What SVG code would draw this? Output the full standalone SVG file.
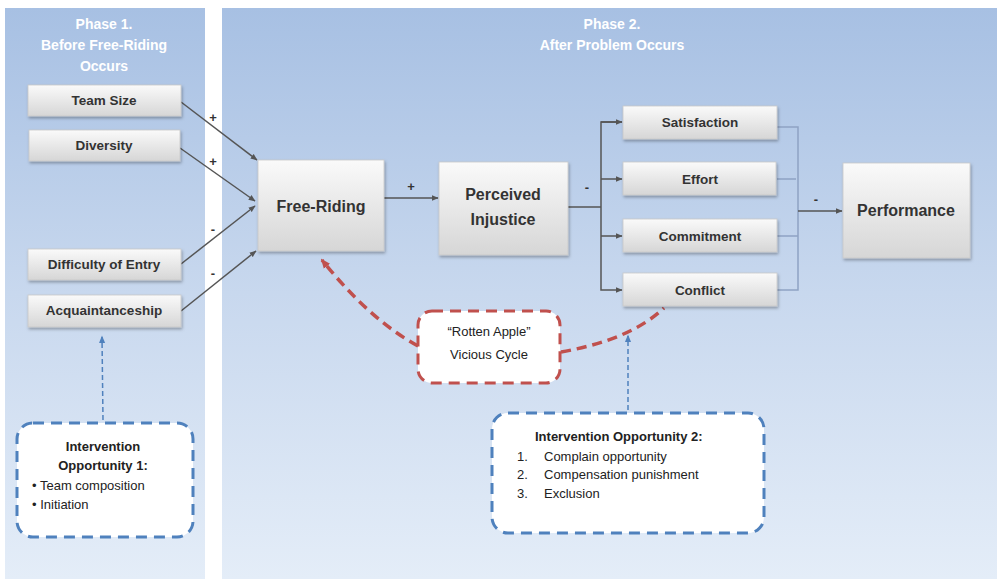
<svg xmlns="http://www.w3.org/2000/svg" width="997" height="579" viewBox="0 0 997 579">
<defs>
<linearGradient id="panel" x1="0" y1="0" x2="0" y2="1">
<stop offset="0" stop-color="#a7c0e3"/>
<stop offset="0.5" stop-color="#c8d8ee"/>
<stop offset="1" stop-color="#e4edf8"/>
</linearGradient>
<linearGradient id="box" x1="0" y1="0" x2="0" y2="1">
<stop offset="0" stop-color="#fafafa"/>
<stop offset="1" stop-color="#d6d6d6"/>
</linearGradient>
<filter id="sh" x="-10%" y="-10%" width="130%" height="140%">
<feDropShadow dx="1" dy="2" stdDeviation="1.5" flood-color="#000" flood-opacity="0.3"/>
</filter>
<marker id="ah" viewBox="0 0 10 10" refX="9" refY="5" markerWidth="7" markerHeight="7" orient="auto" markerUnits="userSpaceOnUse">
<path d="M0,1 L10,5 L0,9 z" fill="#555"/>
</marker>
<marker id="ahr" viewBox="0 0 10 10" refX="8" refY="5" markerWidth="10" markerHeight="10" orient="auto" markerUnits="userSpaceOnUse">
<path d="M0,1 L10,5 L0,9 z" fill="#c0504d"/>
</marker>
<marker id="ahb" viewBox="0 0 10 10" refX="8" refY="5" markerWidth="8" markerHeight="8" orient="auto" markerUnits="userSpaceOnUse">
<path d="M0,1 L10,5 L0,9 z" fill="#4f81bd"/>
</marker>
</defs>
<style>
text{font-family:"Liberation Sans",Arial,sans-serif;}
.title{fill:#ffffff;font-weight:bold;font-size:14px;text-anchor:middle;}
.node rect{fill:url(#box);stroke:#c8c8c8;stroke-width:0.8;filter:url(#sh);}
.lbl{fill:#333;font-weight:bold;font-size:13.5px;text-anchor:middle;}
.big{fill:#333;font-weight:bold;font-size:16px;text-anchor:middle;}
.sign{fill:#333;font-weight:bold;font-size:13px;text-anchor:middle;}
.ln{fill:none;stroke:#555;stroke-width:1.5;}
.br{fill:none;stroke:#8fa3c3;stroke-width:1.5;}
.red{fill:none;stroke:#c0504d;stroke-width:3.5;stroke-dasharray:10,6;}
.blue{fill:none;stroke:#4f81bd;stroke-width:1.5;stroke-dasharray:5,3;}
.ibox{fill:#ffffff;stroke:#4f81bd;stroke-width:3;stroke-dasharray:11,7;}
.rbox{fill:#ffffff;stroke:#c0504d;stroke-width:3;stroke-dasharray:11,7;}
.it{fill:#222;font-size:13px;}
.itb{fill:#222;font-size:13px;font-weight:bold;}
</style>
<rect width="997" height="579" fill="#ffffff"/>
<rect x="5" y="8" width="200" height="571" fill="url(#panel)"/>
<rect x="222" y="8" width="775" height="571" fill="url(#panel)"/>
<g id="phase1-title">
<text class="title" x="104" y="29">Phase 1.</text>
<text class="title" x="104" y="50">Before Free-Riding</text>
<text class="title" x="104" y="71">Occurs</text>
</g>
<g id="phase2-title">
<text class="title" x="612" y="29">Phase 2.</text>
<text class="title" x="612" y="50">After Problem Occurs</text>
</g>
<g id="connectors">
<line class="ln" x1="181" y1="102" x2="257" y2="160" marker-end="url(#ah)"/>
<line class="ln" x1="180" y1="148" x2="255" y2="201" marker-end="url(#ah)"/>
<line class="ln" x1="181" y1="264" x2="255" y2="206" marker-end="url(#ah)"/>
<line class="ln" x1="181" y1="311" x2="256" y2="251" marker-end="url(#ah)"/>
<text class="sign" x="213" y="122">+</text>
<text class="sign" x="213" y="166">+</text>
<text class="sign" x="213" y="234">-</text>
<text class="sign" x="213" y="278">-</text>
<line class="ln" x1="384" y1="198" x2="438" y2="198" marker-end="url(#ah)"/>
<text class="sign" x="411" y="191">+</text>
<line class="ln" x1="568" y1="207" x2="601" y2="207"/>
<path class="ln" d="M622,122 H601 V290 H622" marker-end="url(#ah)"/>
<path class="ln" d="M601,122 H622" marker-end="url(#ah)"/>
<path class="ln" d="M601,179 H622" marker-end="url(#ah)"/>
<path class="ln" d="M601,236 H622" marker-end="url(#ah)"/>
<text class="sign" x="587" y="192">-</text>
<path class="br" d="M777,127 H798 V290 H777 M777,179 H796 M777,236 H798"/>
<line class="ln" x1="798" y1="211" x2="842" y2="211" marker-end="url(#ah)"/>
<text class="sign" x="816" y="204">-</text>
<path class="red" d="M418,346 Q370,320 322,260" marker-end="url(#ahr)"/>
<path class="red" d="M561,352 Q630,340 664,308"/>
<line class="blue" x1="628" y1="418" x2="628" y2="336" marker-end="url(#ahb)"/>
<line class="blue" x1="103" y1="420" x2="102" y2="337" marker-end="url(#ahb)"/>
</g>
<g id="team-size" class="node"><rect x="28" y="85" width="153" height="31"/><text class="lbl" x="104" y="105">Team Size</text></g>
<g id="diversity" class="node"><rect x="29" y="130" width="151" height="31"/><text class="lbl" x="104" y="150">Diversity</text></g>
<g id="difficulty" class="node"><rect x="28" y="249" width="153" height="31"/><text class="lbl" x="104" y="269">Difficulty of Entry</text></g>
<g id="acquaintanceship" class="node"><rect x="28" y="295" width="153" height="32"/><text class="lbl" x="104" y="315">Acquaintanceship</text></g>
<g id="free-riding" class="node"><rect x="258" y="160" width="126" height="91"/><text class="big" x="321" y="212">Free-Riding</text></g>
<g id="perceived-injustice" class="node"><rect x="439" y="162" width="129" height="93"/><text class="big" x="503" y="200">Perceived</text><text class="big" x="503" y="225">Injustice</text></g>
<g id="satisfaction" class="node"><rect x="623" y="106" width="154" height="33"/><text class="lbl" x="700" y="127">Satisfaction</text></g>
<g id="effort" class="node"><rect x="623" y="162" width="153" height="33"/><text class="lbl" x="700" y="184">Effort</text></g>
<g id="commitment" class="node"><rect x="623" y="219" width="154" height="33"/><text class="lbl" x="700" y="241">Commitment</text></g>
<g id="conflict" class="node"><rect x="623" y="273" width="154" height="33"/><text class="lbl" x="700" y="295">Conflict</text></g>
<g id="performance" class="node"><rect x="843" y="163" width="127" height="95"/><text class="big" x="906" y="216">Performance</text></g>
<g id="rotten-apple"><rect class="rbox" x="418" y="311" width="142" height="72" rx="14"/><text class="it" x="489" y="336" text-anchor="middle">“Rotten Apple”</text><text class="it" x="489" y="359" text-anchor="middle">Vicious Cycle</text></g>
<g id="intervention-1"><rect class="ibox" x="17" y="423" width="176" height="114" rx="16"/>
<text class="itb" x="103" y="451" text-anchor="middle">Intervention</text>
<text class="itb" x="103" y="470" text-anchor="middle">Opportunity 1:</text>
<text class="it" x="32" y="490">• Team composition</text>
<text class="it" x="32" y="509">• Initiation</text></g>
<g id="intervention-2"><rect class="ibox" x="492" y="413" width="272" height="120" rx="16"/>
<text class="itb" x="535" y="441">Intervention Opportunity 2:</text>
<text class="it" x="517" y="461">1.</text><text class="it" x="544" y="461">Complain opportunity</text>
<text class="it" x="517" y="479">2.</text><text class="it" x="544" y="479">Compensation punishment</text>
<text class="it" x="517" y="498">3.</text><text class="it" x="544" y="498">Exclusion</text></g>
</svg>
